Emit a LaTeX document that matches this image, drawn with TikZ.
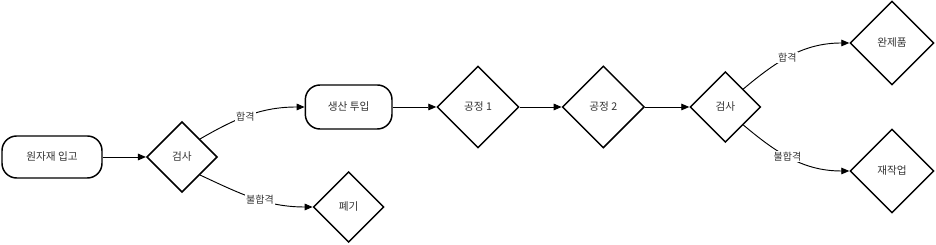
\documentclass[tikz,border=0pt]{standalone}
\usepackage{fontspec}
\newfontfamily\kr{Noto Sans CJK KR}
\usetikzlibrary{shapes.geometric,arrows.meta}

\begin{document}
\begin{tikzpicture}[
    node distance=96pt,
    font=\kr\fontsize{8}{10}\selectfont,
    term/.style={rectangle, draw, line width=1.1pt, rounded corners=11pt, minimum width=75pt, minimum height=31.5pt, text centered, text=black!80},
    decide/.style={diamond, draw, line width=1.1pt, aspect=1, inner sep=0pt, minimum width=53pt, minimum height=53pt, text=black!80},
    proc/.style={decide, minimum width=61.5pt, minimum height=61.5pt},
    arrow/.style={-{Triangle[length=6pt,width=5pt]}, line width=0.7pt},
    tag/.style={fill=white, inner sep=1pt, text=black!80, font=\kr\fontsize{7.5}{9}\selectfont}
]
\useasboundingbox (-39pt,-66pt) rectangle (663pt,117.75pt);

\node[term] (raw) {원자재 입고};
\node[decide, right of=raw, xshift=1.5pt] (check) {검사};
\node[term, right of=check, xshift=29pt, yshift=37.5pt, minimum width=65pt, minimum height=33pt] (input) {생산 투입};
\node[decide, right of=check, xshift=29pt, yshift=-37.5pt] (scrap) {폐기};
\node[proc, right of=input, xshift=1pt] (step1) {공정 1};
\node[proc, right of=step1, xshift=-2pt] (step2) {공정 2};
\node[decide, right of=step2, xshift=-4.5pt] (recheck) {검사};
\node[proc, right of=recheck, xshift=29pt, yshift=48pt, minimum width=63pt, minimum height=63pt] (final) {완제품};
\node[proc, right of=recheck, xshift=29pt, yshift=-48pt, minimum width=63pt, minimum height=63pt] (rework) {재작업};

\draw[arrow] (raw) -- (check);
\draw[arrow] (check.north east) to[out=30, in=180] node[tag, pos=0.45]{합격} (input.west);
\draw[arrow] (check.south east) to[out=-25, in=180] node[tag, pos=0.55]{불합격} (scrap.west);
\draw[arrow] (input) -- (step1);
\draw[arrow] (step1) -- (step2);
\draw[arrow] (step2) -- (recheck);
\draw[arrow] (recheck.north east) to[out=40, in=180] node[tag, pos=0.45]{합격} (final.west);
\draw[arrow] (recheck.south east) to[out=-40, in=180] node[tag, pos=0.45]{불합격} (rework.west);
\end{tikzpicture}
\end{document}
